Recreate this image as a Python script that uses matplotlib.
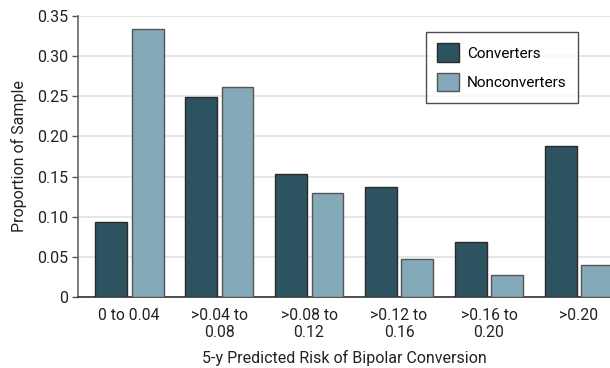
import numpy as np
import matplotlib
matplotlib.use("Agg")
import matplotlib.pyplot as plt

plt.rcParams['font.family'] = ['Roboto', 'DejaVu Sans']

categories = ["0 to 0.04", ">0.04 to\n0.08", ">0.08 to\n0.12", ">0.12 to\n0.16", ">0.16 to\n0.20", ">0.20"]
converters = [0.094, 0.249, 0.153, 0.137, 0.068, 0.188]
nonconverters = [0.334, 0.261, 0.130, 0.047, 0.027, 0.040]
yticks = [0, 0.05, 0.10, 0.15, 0.20, 0.25, 0.30, 0.35]
ytick_labels = ["0", "0.05", "0.10", "0.15", "0.20", "0.25", "0.30", "0.35"]

dark = '#2e5360'
light = '#84a9b8'
edge = '#2a2a2a'

fig = plt.figure(figsize=(6.1, 3.68), dpi=100)
ax = fig.add_axes([0.128, 0.193, 0.872, 0.7635])

x = np.arange(len(categories))
ax.bar(x - 0.2, converters, width=0.355, color=dark, edgecolor=edge, linewidth=1, label='Converters', zorder=3)
ax.bar(x + 0.205, nonconverters, width=0.355, color=light, edgecolor='#555555', linewidth=1, label='Nonconverters', zorder=3)

ax.set_xlim(-0.567, 5.345)
ax.set_ylim(0, 0.35)
ax.set_yticks(yticks)
ax.set_yticklabels(ytick_labels, fontsize=11.5, color='#222222')
ax.set_xticks(x)
ax.set_xticklabels(categories, fontsize=11.3, color='#222222', linespacing=1.2)
ax.tick_params(axis='x', length=0, pad=8)
ax.tick_params(axis='y', length=4, width=1, color='#555555', pad=3)
ax.yaxis.grid(True, color='#e2e2e2', linewidth=1.2, zorder=0)
ax.set_axisbelow(True)
for s in ['top', 'right']:
    ax.spines[s].set_visible(False)
ax.spines['left'].set_color('#666666')
ax.spines['bottom'].set_color('#333333')
ax.spines['left'].set_linewidth(1.2)
ax.spines['bottom'].set_linewidth(1.2)

ax.set_ylabel("Proportion of Sample", fontsize=11.5, color='#222222', labelpad=7)
ax.set_xlabel("5-y Predicted Risk of Bipolar Conversion", fontsize=11.5, color='#222222', labelpad=7)

leg = ax.legend(loc='upper right', bbox_to_anchor=(0.94, 0.943), borderaxespad=0, fontsize=11, frameon=True,
                fancybox=False, edgecolor='#222222', handlelength=1.45, handleheight=1.45,
                handletextpad=0.5, borderpad=0.75, labelspacing=0.75)
leg.get_frame().set_linewidth(1)

fig.savefig('out.png', dpi=100)
